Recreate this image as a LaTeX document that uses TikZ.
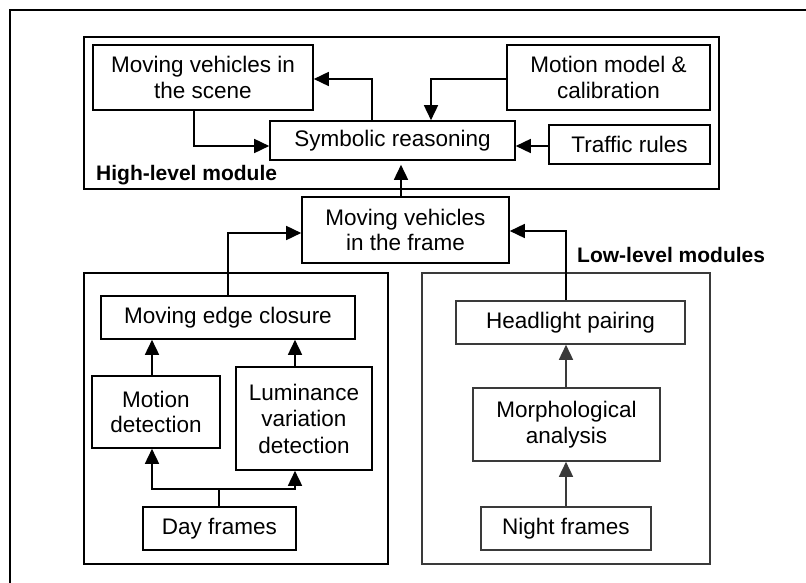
\documentclass[tikz,border=0pt]{standalone}
\usepackage{fontspec}
\setmainfont{Liberation Sans}
\usetikzlibrary{arrows.meta}
\definecolor{lowgray}{HTML}{3A3A3A}
\tikzset{
  box/.style={draw, line width=1.6bp, inner sep=0pt, align=center,
    font=\fontsize{22.5bp}{25.5bp}\selectfont},
  graybox/.style={box, draw=lowgray},
  group/.style={draw, line width=1.8bp},
  flow/.style={line width=1.6bp, -{Triangle[length=15bp,width=14bp]}},
  grayflow/.style={flow, draw=lowgray, -{Triangle[length=15bp,width=14bp,fill=lowgray]}},
  modlabel/.style={anchor=base west, inner sep=0pt,
    font=\fontsize{21bp}{24bp}\selectfont\bfseries},
}
\begin{document}
\begin{tikzpicture}[x=1bp, y=-1bp]
\useasboundingbox (0,0) rectangle (806,583);
\fill[white] (0,0) rectangle (806,583);
\begin{scope}
  \clip (0,0) rectangle (806,583);
  % outer frame, running off the page at right and bottom
  \draw[line width=1.8bp] (10,10) rectangle (830,610);
\end{scope}

% module frames
\draw[group] (84,37) rectangle (719,189);
\draw[group] (84,273) rectangle (388,564);
\draw[group, draw=lowgray] (422,273) rectangle (710,564);
\node[modlabel] (hlbl) at (96,181) {High-level module};
\node[modlabel] (llbl) at (577,262) {Low-level modules};

% high-level module
\node[box, minimum width=220bp, minimum height=65bp] (scene) at (203,77.5) {Moving vehicles in\\the scene};
\node[box, minimum width=245bp, minimum height=39bp] (sym) at (392.5,140.5) {Symbolic reasoning};
\node[box, minimum width=203bp, minimum height=65bp] (model) at (608.5,77.5) {Motion model \&\\calibration};
\node[box, minimum width=161bp, minimum height=39bp] (rules) at (629.5,144.5) {Traffic rules};

% fusion
\node[box, minimum width=207bp, minimum height=66bp] (frame) at (405.5,230) {Moving vehicles\\in the frame};

% day pipeline
\node[box, minimum width=254bp, minimum height=43bp] (closure) at (228,317.5) {Moving edge closure};
\node[box, minimum width=128bp, minimum height=72bp] (motion) at (156,412) {Motion\\detection};
\node[box, minimum width=136bp, minimum height=103bp, font=\fontsize{22.5bp}{26.5bp}\selectfont] (lum) at (304,418.5) {Luminance\\variation\\detection};
\node[box, minimum width=153bp, minimum height=43bp] (day) at (219.5,528.5) {Day frames};

% night pipeline
\node[graybox, minimum width=229bp, minimum height=43bp] (head) at (570.5,322.5) {Headlight pairing};
\node[graybox, minimum width=187bp, minimum height=73bp] (morph) at (566.5,424.5) {Morphological\\analysis};
\node[graybox, minimum width=170bp, minimum height=43bp] (night) at (566,528.5) {Night frames};

% connectors in the high-level module
\draw[flow] (372,0 |- sym.north) -- (372,79) -- (scene.east |- 0,79);
\draw[flow] (194,0 |- scene.south) -- (194,146) -- (sym.west |- 0,146);
\draw[flow] (model.west |- 0,79) -- (431,79) -- (431,0 |- sym.north);
\draw[flow] (rules.west |- 0,146) -- (sym.east |- 0,146);
\draw[flow, shorten >=4bp] (401,0 |- frame.north) -- (401,0 |- sym.south);

% day connectors
\draw[flow] (228,0 |- closure.north) -- (228,233) -- (frame.west |- 0,233);
\draw[flow] (152,0 |- motion.north) -- (152,0 |- closure.south);
\draw[flow] (295,0 |- lum.north) -- (295,0 |- closure.south);
\coordinate (split) at (219,489);
\draw[line width=1.6bp] (day.north -| split) -- (split);
\draw[flow] (split) -- (152,489) -- (152,0 |- motion.south);
\draw[flow] (split) -- (295,489) -- (295,0 |- lum.south);

% night connectors
\draw[flow] (566,0 |- head.north) -- (566,231) -- (frame.east |- 0,231);
\draw[grayflow] (566,0 |- morph.north) -- (566,0 |- head.south);
\draw[grayflow] (566,0 |- night.north) -- (566,0 |- morph.south);
\end{tikzpicture}
\end{document}
